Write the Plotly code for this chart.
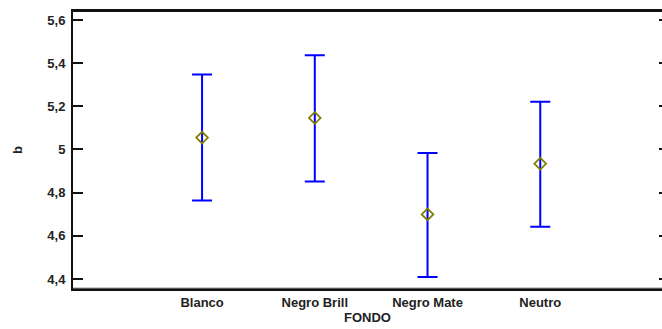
import plotly.graph_objects as go

# Means and interval limits of b for each FONDO level
categories = ["Blanco", "Negro Brill", "Negro Mate", "Neutro"]
means = [5.055, 5.146, 4.699, 4.934]
upper = [5.347, 5.436, 4.984, 5.221]
lower = [4.763, 4.852, 4.409, 4.642]
y_ticks = [4.4, 4.6, 4.8, 5.0, 5.2, 5.4, 5.6]

xpos = list(range(1, len(categories) + 1))
err_plus = [u - m for u, m in zip(upper, means)]
err_minus = [m - l for m, l in zip(means, lower)]

font_family = "Liberation Sans, Arial, sans-serif"


def fmt(v):
    s = f"{v:.1f}".replace(".", ",")
    return s[:-2] if s.endswith(",0") else s


fig = go.Figure()

# Interval bars
fig.add_trace(go.Scatter(
    x=xpos, y=means, mode="markers",
    marker=dict(size=1, color="rgba(0,0,0,0)"),
    error_y=dict(type="data", symmetric=False, array=err_plus, arrayminus=err_minus,
                 color="#0000ff", thickness=2, width=10),
    showlegend=False, hoverinfo="skip",
))

# Mean markers
fig.add_trace(go.Scatter(
    x=xpos, y=means, mode="markers",
    marker=dict(symbol="diamond-open", size=9, color="#808000",
                line=dict(width=1.8, color="#808000")),
    showlegend=False,
))

# Right-hand axis carrying short inward ticks
fig.add_trace(go.Scatter(x=[None], y=[None], yaxis="y2", showlegend=False))

fig.update_layout(
    width=662, height=329,
    margin=dict(l=73, r=0, t=12, b=41),
    paper_bgcolor="white", plot_bgcolor="white",
    separators=",.",
    font=dict(family=font_family, size=13, color="#222222"),
    xaxis=dict(
        range=[-0.145, 5.08],
        tickvals=xpos, ticktext=[f"<b>{c}</b>" for c in categories],
        ticks="", showgrid=False, zeroline=False,
        showline=True, linecolor="#111111", linewidth=3, mirror=True,
        ticklabelstandoff=0,
        title=dict(text="<b>FONDO</b>", standoff=4, font=dict(size=13)),
        tickfont=dict(size=13),
    ),
    yaxis=dict(
        range=[4.358, 5.637],
        tickvals=y_ticks, ticktext=[f"<b>{fmt(v)}</b>" for v in y_ticks],
        ticks="inside", ticklen=10, tickwidth=2, tickcolor="#111111",
        showgrid=False, zeroline=False,
        showline=True, linecolor="#111111", linewidth=2,
        ticklabelstandoff=3,
        title=dict(text="<b>b</b>", standoff=22, font=dict(size=13)),
        tickfont=dict(size=13),
    ),
    yaxis2=dict(
        overlaying="y", side="right", range=[4.358, 5.637],
        tickvals=y_ticks, showticklabels=False,
        ticks="inside", ticklen=3, tickwidth=2, tickcolor="#111111",
        showgrid=False, zeroline=False, showline=False,
    ),
)

# Light centre stripe giving the bottom border its doubled look
fig.add_shape(type="line", xref="paper", yref="paper", x0=0, x1=1, y0=0, y1=0,
              line=dict(color="#9a9a9a", width=1))

fig.write_html("out.html")
